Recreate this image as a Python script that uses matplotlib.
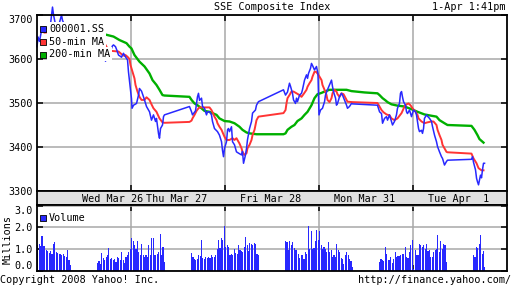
import matplotlib
matplotlib.use("Agg")
import matplotlib.pyplot as plt
import numpy as np

# ---------------- data ----------------
# x positions are in trading-day units (0 = Wed 09:30, 1 = Thu 09:30, ...)
price_t = [0.000, 0.011, 0.027, 0.048, 0.080, 0.112, 0.144, 0.165, 0.176, 0.197, 0.229, 0.261, 0.271, 0.303,
           0.335, 0.356, 0.612, 0.644, 0.676, 0.697, 0.718, 0.729, 0.750, 0.761, 0.782, 0.803, 0.814, 0.835,
           0.846, 0.867, 0.888, 0.899, 0.920, 0.941, 0.963, 0.973, 0.989, 1.005, 1.011, 1.027, 1.059, 1.080,
           1.090, 1.112, 1.133, 1.165, 1.197, 1.218, 1.239, 1.261, 1.271, 1.293, 1.303, 1.314, 1.335, 1.346,
           1.356, 1.622, 1.644, 1.654, 1.686, 1.707, 1.718, 1.729, 1.750, 1.761, 1.782, 1.803, 1.814, 1.835,
           1.856, 1.867, 1.888, 1.920, 1.941, 1.963, 1.973, 1.984, 1.995, 2.016, 2.027, 2.037, 2.048, 2.069,
           2.080, 2.101, 2.122, 2.144, 2.176, 2.186, 2.197, 2.218, 2.229, 2.239, 2.261, 2.282, 2.293, 2.324,
           2.335, 2.356, 2.622, 2.644, 2.665, 2.686, 2.697, 2.718, 2.729, 2.750, 2.761, 2.771, 2.793, 2.814,
           2.824, 2.846, 2.867, 2.878, 2.888, 2.910, 2.920, 2.936, 2.952, 2.973, 2.989, 3.000, 3.016, 3.037,
           3.059, 3.069, 3.090, 3.112, 3.133, 3.144, 3.154, 3.176, 3.186, 3.197, 3.218, 3.239, 3.250, 3.271,
           3.293, 3.303, 3.324, 3.346, 3.356, 3.622, 3.644, 3.665, 3.676, 3.697, 3.718, 3.729, 3.750, 3.771,
           3.782, 3.803, 3.824, 3.835, 3.856, 3.867, 3.878, 3.888, 3.899, 3.920, 3.931, 3.941, 3.963, 3.984,
           4.005, 4.027, 4.037, 4.048, 4.059, 4.069, 4.090, 4.101, 4.112, 4.122, 4.144, 4.154, 4.176, 4.197,
           4.207, 4.229, 4.250, 4.261, 4.282, 4.303, 4.314, 4.335, 4.356, 4.367, 4.622, 4.633, 4.644, 4.665,
           4.676, 4.686, 4.697, 4.718, 4.729, 4.739, 4.750, 4.761]
price_v = [3628, 3650, 3640, 3665, 3672, 3668, 3680, 3718, 3700, 3678, 3675, 3700, 3688, 3672,
           3668, 3665, 3662, 3645, 3632, 3624, 3610, 3595, 3612, 3620, 3618, 3630, 3632, 3628,
           3622, 3609, 3606, 3604, 3613, 3605, 3598, 3571, 3541, 3510, 3488, 3495, 3499, 3518,
           3533, 3527, 3514, 3492, 3480, 3461, 3473, 3458, 3465, 3430, 3420, 3442, 3450, 3469,
           3473, 3492, 3480, 3473, 3482, 3514, 3522, 3506, 3511, 3492, 3488, 3473, 3480, 3480,
           3473, 3458, 3442, 3435, 3427, 3412, 3393, 3378, 3397, 3412, 3439, 3442, 3435, 3446,
           3412, 3405, 3389, 3386, 3382, 3390, 3363, 3382, 3397, 3416, 3442, 3458, 3477, 3484,
           3495, 3503, 3530, 3518, 3525, 3545, 3538, 3522, 3507, 3499, 3511, 3503, 3518, 3522,
           3530, 3552, 3564, 3556, 3567, 3579, 3590, 3583, 3575, 3583, 3567, 3473, 3484, 3488,
           3503, 3518, 3530, 3541, 3552, 3537, 3526, 3511, 3495, 3499, 3514, 3522, 3518, 3507,
           3495, 3488, 3492, 3499, 3498, 3495, 3480, 3476, 3454, 3465, 3469, 3461, 3473, 3458,
           3450, 3458, 3473, 3488, 3499, 3522, 3526, 3514, 3503, 3495, 3480, 3476, 3484, 3469,
           3484, 3480, 3473, 3458, 3442, 3435, 3438, 3431, 3442, 3465, 3473, 3470, 3465, 3458,
           3447, 3427, 3412, 3401, 3389, 3378, 3374, 3359, 3367, 3370, 3372, 3378, 3365, 3348,
           3329, 3321, 3314, 3336, 3330, 3348, 3363, 3363]

ma50_t = [0.080, 0.186, 0.293, 0.356, 0.612, 0.654, 0.686, 0.707, 0.739, 0.761, 0.867, 0.888, 0.910, 0.931,
          0.941, 0.963, 0.984, 0.995, 1.016, 1.037, 1.048, 1.069, 1.090, 1.112, 1.144, 1.165, 1.197, 1.218,
          1.239, 1.271, 1.303, 1.335, 1.356, 1.622, 1.644, 1.654, 1.676, 1.697, 1.718, 1.729, 1.835, 1.856,
          1.872, 1.888, 1.910, 1.920, 1.941, 1.963, 1.979, 1.995, 2.016, 2.048, 2.080, 2.101, 2.122, 2.133,
          2.154, 2.176, 2.186, 2.207, 2.229, 2.239, 2.261, 2.282, 2.293, 2.314, 2.324, 2.335, 2.356, 2.622,
          2.644, 2.654, 2.665, 2.686, 2.707, 2.729, 2.761, 2.793, 2.814, 2.835, 2.867, 2.878, 2.899, 2.920,
          2.931, 2.952, 2.968, 2.984, 3.005, 3.027, 3.037, 3.059, 3.080, 3.090, 3.112, 3.133, 3.144, 3.165,
          3.186, 3.197, 3.218, 3.239, 3.261, 3.293, 3.303, 3.356, 3.622, 3.644, 3.665, 3.686, 3.718, 3.750,
          3.771, 3.803, 3.835, 3.878, 3.910, 3.931, 3.952, 3.973, 3.995, 4.027, 4.048, 4.059, 4.090, 4.122,
          4.154, 4.197, 4.218, 4.250, 4.261, 4.282, 4.303, 4.314, 4.335, 4.356, 4.367, 4.622, 4.644, 4.676,
          4.697, 4.729, 4.750]
ma50_v = [3660, 3662, 3660, 3659, 3659, 3657, 3650, 3640, 3628, 3619, 3617, 3613, 3609, 3607,
          3609, 3605, 3600, 3586, 3571, 3556, 3541, 3526, 3514, 3507, 3507, 3513, 3507, 3497,
          3488, 3480, 3465, 3456, 3455, 3457, 3460, 3465, 3473, 3482, 3488, 3490, 3490, 3484,
          3477, 3469, 3461, 3454, 3446, 3439, 3431, 3423, 3416, 3416, 3420, 3416, 3420, 3416,
          3408, 3397, 3389, 3382, 3386, 3397, 3405, 3416, 3427, 3439, 3450, 3461, 3469, 3477,
          3484, 3499, 3511, 3518, 3526, 3526, 3522, 3518, 3514, 3520, 3530, 3537, 3545, 3552,
          3560, 3571, 3571, 3567, 3560, 3552, 3541, 3530, 3518, 3507, 3502, 3511, 3522, 3530,
          3526, 3520, 3514, 3522, 3520, 3507, 3503, 3502, 3500, 3492, 3484, 3479, 3474, 3472,
          3465, 3461, 3465, 3477, 3492, 3497, 3499, 3495, 3488, 3480, 3473, 3465, 3458, 3454,
          3456, 3458, 3458, 3450, 3439, 3427, 3416, 3405, 3397, 3389, 3388, 3385, 3374, 3363,
          3352, 3347, 3347]

ma200_t = [0.739, 0.814, 0.878, 0.952, 0.984, 1.005, 1.037, 1.090, 1.144, 1.197, 1.229, 1.271, 1.303, 1.335,
           1.356, 1.622, 1.644, 1.676, 1.707, 1.750, 1.782, 1.835, 1.867, 1.910, 1.941, 1.995, 2.048, 2.101,
           2.154, 2.186, 2.229, 2.261, 2.335, 2.356, 2.622, 2.644, 2.665, 2.707, 2.739, 2.771, 2.814, 2.846,
           2.878, 2.920, 2.952, 2.984, 3.027, 3.059, 3.112, 3.293, 3.346, 3.484, 3.622, 3.644, 3.676, 3.707,
           3.729, 3.771, 3.835, 3.910, 3.984, 4.048, 4.122, 4.197, 4.250, 4.282, 4.335, 4.367, 4.622, 4.654,
           4.686, 4.707, 4.750]
ma200_v = [3655, 3651, 3643, 3636, 3628, 3624, 3609, 3594, 3583, 3567, 3552, 3541, 3530, 3518,
           3517, 3514, 3507, 3499, 3495, 3488, 3482, 3480, 3477, 3473, 3465, 3459, 3458, 3454,
           3446, 3439, 3433, 3431, 3429, 3429, 3429, 3431, 3439, 3446, 3450, 3459, 3465, 3473,
           3480, 3495, 3511, 3520, 3523, 3526, 3530, 3530, 3527, 3524, 3522, 3518, 3511, 3506,
           3502, 3497, 3494, 3492, 3486, 3480, 3474, 3471, 3469, 3461, 3454, 3450, 3448, 3439,
           3427, 3418, 3410]

# volume (millions), one value per 5-minute bar, per half-session
vol_wed_am = [1.2, 1.25, 1.15, 1.6, 1.15, 1.15, 0.95, 0.9, 0.82, 0.9, 0.8, 1.25, 1.32, 0.85, 0.82, 0.78,
              0.8, 0.74, 0.76, 0.7, 0.66, 0.97, 0.5, 0.28]
vol_wed_pm = [0.38, 0.45, 0.3, 0.83, 0.6, 0.52, 0.65, 0.72, 1.06, 0.57, 0.6, 0.5, 0.57, 0.42, 0.65, 0.6,
              0.5, 0.88, 0.5, 0.38, 0.65, 0.72, 0.88, 1.03]
vol_thu_am = [1.5, 1.37, 1.18, 1.03, 1.37, 0.88, 0.72, 1.22, 0.72, 0.65, 0.72, 0.65, 1.18, 0.75, 1.5, 1.52,
              0.75, 0.75, 0.8, 0.88, 1.72, 0.72, 1.1, 0.42]
vol_thu_pm = [0.83, 0.65, 0.57, 0.52, 0.55, 0.72, 0.7, 1.42, 0.6, 0.57, 0.62, 0.6, 0.65, 0.6, 0.72, 0.65,
              0.62, 0.75, 1.03, 1.42, 1.05, 1.5, 1.42, 2.06]
vol_fri_am = [1.1, 1.18, 1.08, 0.72, 0.8, 0.72, 1.03, 0.83, 0.8, 1.18, 0.95, 0.9, 0.88, 1.1, 1.57, 1.18,
              0.9, 1.3, 1.22, 1.18, 1.3, 1.26, 0.8, 0.72]
vol_fri_pm = [1.37, 1.34, 0.98, 1.37, 1.2, 1.34, 1.06, 0.98, 0.98, 0.8, 0.6, 0.72, 0.75, 0.54, 0.88, 0.77,
              2.06, 1.0, 1.83, 1.03, 1.06, 1.37, 1.88, 1.42]
vol_mon_am = [1.83, 1.18, 1.03, 1.1, 1.03, 0.88, 1.34, 0.88, 0.95, 0.65, 0.72, 0.65, 1.26, 0.95, 0.88, 0.6,
              0.57, 0.34, 0.72, 0.88, 0.72, 0.57, 0.45, 0.18]
vol_mon_pm = [0.42, 0.57, 0.52, 0.45, 1.1, 0.8, 0.5, 0.5, 0.65, 0.38, 0.57, 0.88, 0.65, 0.7, 0.68, 0.72,
              0.8, 0.8, 1.1, 0.65, 0.6, 0.88, 1.18, 1.42]
vol_tue_am = [0.1, 0.95, 0.72, 0.75, 1.22, 1.18, 1.1, 1.18, 1.03, 1.22, 0.9, 0.95, 0.65, 0.65, 0.88, 0.95,
              1.03, 1.65, 0.88, 1.37, 1.03, 1.26, 1.18, 0.42]
vol_tue_pm = [0.72, 0.65, 1.1, 1.06, 1.26, 1.65, 0.8, 0.9, 0.18]

# (day index, minutes after 09:30 at session start, values)
sessions = [(0, 0, vol_wed_am), (0, 210, vol_wed_pm), (1, 0, vol_thu_am), (1, 210, vol_thu_pm),
            (2, 0, vol_fri_am), (2, 210, vol_fri_pm), (3, 0, vol_mon_am), (3, 210, vol_mon_pm),
            (4, 0, vol_tue_am), (4, 210, vol_tue_pm)]

day_labels = ["Wed Mar 26", "Thu Mar 27", "Fri Mar 28", "Mon Mar 31", "Tue Apr  1"]
day_label_pos = [0.80, 1.49, 2.49, 3.49, 4.49]
legend_labels = ["000001.SS", "50-min MA", "200-min MA"]

# ---------------- style ----------------
BLUE = "#2828ff"
RED = "#ff3434"
GREEN = "#00b000"
GRID = "#a8a8a8"
BAND = "#e0e0e0"
FONT = "DejaVu Sans Mono"
FS = 7.3
plt.rcParams["font.family"] = FONT
plt.rcParams["font.size"] = FS

W, H = 512, 288
fig = plt.figure(figsize=(W / 100, H / 100), dpi=100)
fig.patch.set_facecolor("white")

def box(l, t, r, b):
    return [l / W, 1 - b / H, (r - l) / W, (b - t) / H]

ax = fig.add_axes(box(37, 15, 507, 191))
axb = fig.add_axes(box(37, 191, 507, 205))
axv = fig.add_axes(box(37, 205, 507, 271))

for a in (ax, axb, axv):
    a.set_xlim(0, 5)
    for s in a.spines.values():
        s.set_linewidth(1.3)
        s.set_color("black")

# main price panel
ax.set_ylim(3300, 3700)
ax.set_yticks([3300, 3400, 3500, 3600, 3700])
ax.set_xticks([1, 2, 3, 4])
ax.grid(True, color=GRID, linewidth=1.1)
ax.set_axisbelow(True)
ax.tick_params(axis="x", direction="in", length=4, width=1.1, top=True, bottom=True, labelbottom=False)
ax.tick_params(axis="y", direction="in", length=4, width=1.1, left=True, right=True, pad=3, labelsize=FS)
for lab in ax.get_yticklabels():
    if lab.get_text() == "3700":
        lab.set_verticalalignment("top")

ax.plot(ma200_t, ma200_v, color=GREEN, lw=1.7, zorder=2)
ax.plot(ma50_t, ma50_v, color=RED, lw=1.4, zorder=2.1)
ax.plot(price_t, price_v, color=BLUE, lw=1.1, zorder=2.2, clip_on=False)

# legend rows
leg_colors = [BLUE, RED, GREEN]
leg_y = [0.923, 0.849, 0.778]
for lab, col, yy in zip(legend_labels, leg_colors, leg_y):
    ax.text(0.0255, yy, lab, transform=ax.transAxes, ha="left", va="center", fontsize=FS,
            bbox=dict(facecolor="white", edgecolor="none", pad=1.2), zorder=5)
    ax.scatter([0.0138], [yy - 0.005], marker="s", s=22, facecolor=col, edgecolor="black",
               linewidth=0.6, transform=ax.transAxes, zorder=6, clip_on=False)

# date band
axb.set_facecolor(BAND)
axb.set_ylim(0, 1)
axb.set_xticks([])
axb.set_yticks([])
for lab, pos in zip(day_labels, day_label_pos):
    axb.text(pos, 0.45, lab, ha="center", va="center", fontsize=FS)

# volume panel
for day, start, vals in sessions:
    xs = [day + (start + 5 * j + 2.5) / 330 for j in range(len(vals))]
    axv.bar(xs, vals, width=1.1 / 94, color=BLUE, linewidth=0, antialiased=False, zorder=2)
axv.set_ylim(0, 3.03)
axv.set_yticks([0, 1, 2, 3])
axv.set_yticklabels(["0.0", "1.0", "2.0", "3.0"])
axv.set_xticks([1, 2, 3, 4])
axv.grid(True, color=GRID, linewidth=1.1)
axv.set_axisbelow(True)
axv.tick_params(axis="x", direction="in", length=4, width=1.1, top=True, bottom=True, labelbottom=False)
axv.tick_params(axis="y", direction="in", length=4, width=1.1, left=True, right=True, pad=3, labelsize=FS)
ylabs = axv.get_yticklabels()
ylabs[0].set_verticalalignment("bottom")
ylabs[-1].set_verticalalignment("top")
axv.text(0.0255, 0.803, "Volume", transform=axv.transAxes, ha="left", va="center", fontsize=FS,
         bbox=dict(facecolor="white", edgecolor="none", pad=1.0), zorder=5)
axv.scatter([0.0138], [0.80], marker="s", s=22, facecolor=BLUE, edgecolor="black", linewidth=0.6,
            transform=axv.transAxes, zorder=6, clip_on=False)

fig.text(7.5 / W, 1 - 240 / H, "Millions", rotation=90, ha="center", va="center", fontsize=FS)

# header / footer
fig.text(272 / W, 1 - 7 / H, "SSE Composite Index", ha="center", va="center", fontsize=FS)
fig.text(505 / W, 1 - 7 / H, "1-Apr 1:41pm", ha="right", va="center", fontsize=FS)
fig.text(0 / W, 1 - 280 / H, "Copyright 2008 Yahoo! Inc.", ha="left", va="center", fontsize=FS)
fig.text(511 / W, 1 - 280 / H, "http://finance.yahoo.com/", ha="right", va="center", fontsize=FS)

fig.savefig("out.png", dpi=100, facecolor="white")
